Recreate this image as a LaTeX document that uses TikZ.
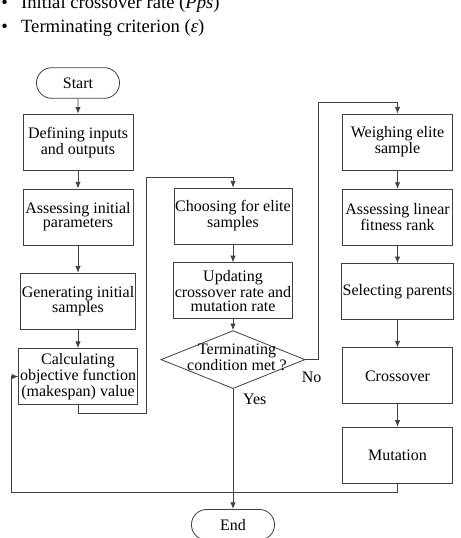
\documentclass[tikz,border=0pt]{standalone}
\usepackage{fontspec}
\setmainfont{Liberation Serif}
\usetikzlibrary{positioning,arrows.meta,shapes.geometric,shapes.misc}

\begin{document}
\begin{tikzpicture}[
    x=0.75pt,y=-0.75pt,
    font=\fontsize{12}{10.5}\selectfont,
    box/.style={draw=black!75,line width=0.6pt,minimum width=82.5pt,minimum height=42pt,align=center,inner sep=1pt},
    term/.style={draw=black!75,line width=0.6pt,rounded rectangle,minimum width=69pt,minimum height=23pt},
    decision/.style={draw=black!75,line width=0.6pt,diamond,minimum width=108pt,minimum height=43.5pt,inner sep=0pt},
    arr/.style={-{Latex[length=5pt,width=4pt]},draw=black!75,line width=0.6pt},
    item/.style={anchor=base west,inner sep=0pt,font=\fontsize{14}{16}\selectfont}
  ]
    \useasboundingbox (0,0) rectangle (460,538);

    \node[item] (crossrate) at (1,9) {\textbullet\hspace{10pt}Initial crossover rate (\textit{Pps})};
    \node[item] (criterion) at (1,33) {\textbullet\hspace{10pt}Terminating criterion (\textit{ε})};

    \node[term] (start) at (78,83) {Start};
    \node[box,below=11.25pt of start] (define) {Defining inputs\\and outputs};
    \node[box,below=13.5pt of define] (assessp) {Assessing initial\\parameters};
    \node[box,below=20.6pt of assessp] (generate) {Generating initial\\samples};
    \node[box,below=13.9pt of generate] (calc) {Calculating\\objective function\\(makespan) value};

    \node[box,minimum width=84pt] (choose) at (233,216) {Choosing for elite\\samples};
    \node[box,minimum width=84pt,below=13.5pt of choose] (update) {Updating\\crossover rate and\\mutation rate};
    \node[decision,below=8.25pt of update,label={[align=center,xshift=3pt,yshift=2pt]center:Terminating\\condition met ?}] (check) {};

    \node[box] (weigh) at (397.5,142) {Weighing elite\\sample};
    \node[box,below=13.9pt of weigh] (assessl) {Assessing linear\\fitness rank};
    \node[box,below=13.1pt of assessl] (select) {Selecting parents};
    \node[box,below=20.6pt of select] (cross) {Crossover};
    \node[box,below=16.9pt of cross] (mutate) {Mutation};

    \node[term,below=90pt of check] (end) {End};

    \coordinate (j1) at (146,413);
    \coordinate (j2) at (146,177);
    \coordinate (n1) at (318,102);
    \coordinate (b1) at (11,492);

    \draw[arr] (start) -- (define);
    \draw[arr] (define) -- (assessp);
    \draw[arr] (assessp) -- (generate);
    \draw[arr] (generate) -- (calc);
    \draw[arr] (calc.south) |- (j1) -- (j2) -| (choose.north);
    \draw[arr] (choose) -- (update);
    \draw[arr] (update) -- (check);
    \draw[arr] (check.east) -| node[pos=0.25,below=6pt] {No} (n1) -| (weigh.north);
    \draw[arr] (weigh) -- (assessl);
    \draw[arr] (assessl) -- (select);
    \draw[arr] (select) -- (cross);
    \draw[arr] (cross) -- (mutate);
    \draw[arr] (mutate.south) |- (b1) |- (calc.west);
    \draw[arr] (check.south) -- node[pos=0.09,right=4pt] {Yes} (end.north);
  \end{tikzpicture}
\end{document}
